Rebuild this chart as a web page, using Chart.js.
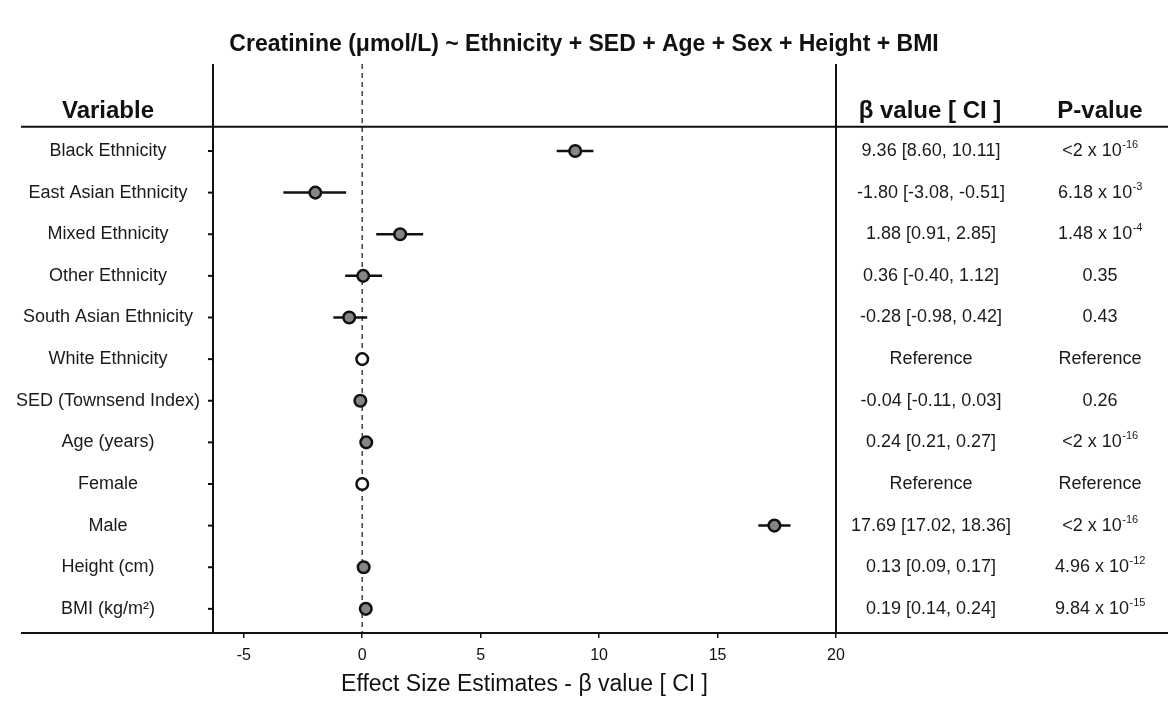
<!DOCTYPE html>
<html lang="en">
<head>
    <meta charset="UTF-8">
    <title>Creatinine forest plot</title>
    <script src="https://cdn.jsdelivr.net/npm/chart.js"></script>
    <style>
        body {
            margin: 0;
            background: #fff;
        }
        canvas {
            display: block;
        }
    </style>
</head>
<body>
    <canvas id="forest" width="1168" height="704"></canvas>

    <script>
        // rows, top to bottom
        const variables = [
            "Black Ethnicity", "East Asian Ethnicity", "Mixed Ethnicity", "Other Ethnicity",
            "South Asian Ethnicity", "White Ethnicity", "SED (Townsend Index)", "Age (years)",
            "Female", "Male", "Height (cm)", "BMI (kg/m²)"
        ];

        // point estimates and CI as plotted
        const estimates = [8.99, -1.98, 1.60, 0.04, -0.55, 0, -0.08, 0.17, 0, 17.40, 0.06, 0.15];
        const ciLow     = [8.21, -3.33, 0.59, -0.72, -1.22, 0, -0.15, 0.14, 0, 16.72, 0.02, 0.10];
        const ciHigh    = [9.76, -0.68, 2.57, 0.84, 0.21, 0, -0.01, 0.20, 0, 18.08, 0.10, 0.20];
        const isReference = [false, false, false, false, false, true, false, false, true, false, false, false];

        // table columns
        const betaText = [
            "9.36 [8.60, 10.11]", "-1.80 [-3.08, -0.51]", "1.88 [0.91, 2.85]", "0.36 [-0.40, 1.12]",
            "-0.28 [-0.98, 0.42]", "Reference", "-0.04 [-0.11, 0.03]", "0.24 [0.21, 0.27]",
            "Reference", "17.69 [17.02, 18.36]", "0.13 [0.09, 0.17]", "0.19 [0.14, 0.24]"
        ];
        const pBase = [
            "<2 x 10", "6.18 x 10", "1.48 x 10", "0.35", "0.43", "Reference",
            "0.26", "<2 x 10", "Reference", "<2 x 10", "4.96 x 10", "9.84 x 10"
        ];
        const pExp = ["-16", "-3", "-4", "", "", "", "", "-16", "", "-16", "-12", "-15"];

        const xTicks = [-5, 0, 5, 10, 15, 20];

        const chartTitle = 'Creatinine (μmol/L) ~ Ethnicity + SED + Age + Sex + Height + BMI';

        const FONT = "'Liberation Sans', Arial, Helvetica, sans-serif";
        const INK = '#111';

        const filledPts = [];
        const openPts = [];
        variables.forEach((v, i) => {
            (isReference[i] ? openPts : filledPts).push({ x: estimates[i], y: i });
        });

        // dashed zero line + CI whiskers under the points
        const whiskers = {
            id: 'whiskers',
            beforeDatasetsDraw(chart) {
                const { ctx, chartArea, scales: { x, y } } = chart;
                ctx.save();
                ctx.strokeStyle = '#444';
                ctx.lineWidth = 1.5;
                ctx.setLineDash([5, 4]);
                ctx.beginPath();
                ctx.moveTo(x.getPixelForValue(0), chartArea.top);
                ctx.lineTo(x.getPixelForValue(0), chartArea.bottom);
                ctx.stroke();
                ctx.setLineDash([]);

                ctx.strokeStyle = INK;
                ctx.lineWidth = 2.5;
                variables.forEach((v, i) => {
                    if (isReference[i]) return;
                    const py = y.getPixelForValue(i);
                    ctx.beginPath();
                    ctx.moveTo(x.getPixelForValue(ciLow[i]), py);
                    ctx.lineTo(x.getPixelForValue(ciHigh[i]), py);
                    ctx.stroke();
                });
                ctx.restore();
            }
        };

        // title, frame lines, row labels and the table on the right
        const table = {
            id: 'table',
            afterDraw(chart) {
                const { ctx, chartArea, scales: { y } } = chart;
                const W = chart.width;
                ctx.save();

                ctx.fillStyle = INK;
                ctx.textAlign = 'center';
                ctx.textBaseline = 'middle';
                ctx.font = 'bold 23px ' + FONT;
                ctx.fillText(chartTitle, W / 2, 45);

                ctx.strokeStyle = INK;
                ctx.lineWidth = 2;
                const headY = y.getPixelForValue(-0.58);
                ctx.beginPath();
                ctx.moveTo(21, headY);
                ctx.lineTo(W, headY);
                ctx.moveTo(21, chartArea.bottom);
                ctx.lineTo(W, chartArea.bottom);
                ctx.moveTo(chartArea.left, chartArea.top);
                ctx.lineTo(chartArea.left, chartArea.bottom);
                ctx.moveTo(chartArea.right, chartArea.top);
                ctx.lineTo(chartArea.right, chartArea.bottom);
                ctx.stroke();

                // headers
                ctx.textBaseline = 'alphabetic';
                ctx.font = 'bold 24px ' + FONT;
                const hb = headY - 9;
                ctx.fillText('Variable', 108, hb);
                ctx.fillText('β value [ CI ]', 930, hb);
                ctx.fillText('P-value', 1100, hb);

                variables.forEach((v, i) => {
                    const py = y.getPixelForValue(i);
                    ctx.beginPath();
                    ctx.moveTo(chartArea.left - 5, py);
                    ctx.lineTo(chartArea.left, py);
                    ctx.stroke();

                    ctx.textBaseline = 'middle';
                    ctx.textAlign = 'center';
                    ctx.font = '18px ' + FONT;
                    ctx.fillStyle = '#1a1a1a';
                    ctx.fillText(v, 108, py);
                    ctx.fillText(betaText[i], 931, py);

                    // p-value with superscript exponent
                    const mainFont = '18px ' + FONT;
                    const supFont = '11px ' + FONT;
                    ctx.font = mainFont;
                    const w1 = ctx.measureText(pBase[i]).width;
                    ctx.font = supFont;
                    const w2 = pExp[i] ? ctx.measureText(pExp[i]).width : 0;
                    const start = 1100 - (w1 + w2) / 2;
                    ctx.textAlign = 'left';
                    ctx.font = mainFont;
                    ctx.fillText(pBase[i], start, py);
                    if (pExp[i]) {
                        ctx.font = supFont;
                        ctx.fillText(pExp[i], start + w1 + 0.5, py - 6);
                    }
                });
                ctx.restore();
            }
        };

        const ctx = document.getElementById('forest').getContext('2d');
        new Chart(ctx, {
            type: 'scatter',
            data: {
                datasets: [{
                    label: 'Estimate',
                    data: filledPts,
                    pointRadius: 5.8,
                    pointBorderWidth: 2.5,
                    pointBackgroundColor: '#858585',
                    pointBorderColor: INK
                }, {
                    label: 'Reference',
                    data: openPts,
                    pointRadius: 5.8,
                    pointBorderWidth: 2.5,
                    pointBackgroundColor: '#fff',
                    pointBorderColor: INK
                }]
            },
            options: {
                responsive: false,
                animation: false,
                devicePixelRatio: 1,
                layout: { padding: { left: 213, right: 332, top: 64, bottom: 0 } },
                plugins: {
                    legend: { display: false },
                    tooltip: { enabled: false },
                    title: { display: false }
                },
                scales: {
                    x: {
                        type: 'linear',
                        min: -6.3,
                        max: 20,
                        afterBuildTicks: (s) => { s.ticks = xTicks.map(v => ({ value: v })); },
                        afterFit: (s) => { s.height = 71; },
                        ticks: {
                            color: INK,
                            padding: 8,
                            font: { family: FONT, size: 16 }
                        },
                        grid: {
                            drawOnChartArea: false,
                            drawTicks: true,
                            tickLength: 5,
                            color: INK,
                            lineWidth: 1.5
                        },
                        border: { display: false },
                        title: {
                            display: true,
                            text: 'Effect Size Estimates - β value [ CI ]',
                            color: INK,
                            font: { family: FONT, size: 23 },
                            padding: { top: 0, bottom: 6 }
                        }
                    },
                    y: {
                        type: 'linear',
                        display: false,
                        reverse: true,
                        min: -2.09,
                        max: 11.58
                    }
                }
            },
            plugins: [whiskers, table]
        });
    </script>
</body>
</html>
